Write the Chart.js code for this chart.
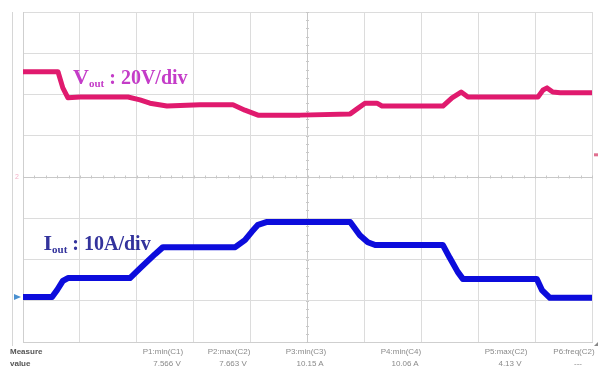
<!DOCTYPE html>
<html>
<head>
<meta charset="utf-8">
<script src="https://cdn.jsdelivr.net/npm/chart.js@4.4.1/dist/chart.umd.min.js"></script>
<style>
  html,body{margin:0;padding:0;background:#fff;}
  #wrap{position:relative;width:600px;height:371px;overflow:hidden;}
  #c{position:absolute;left:0;top:0;}
  .m{position:absolute;font-family:"Liberation Sans",Arial,sans-serif;font-size:8px;color:#8a8a8a;white-space:nowrap;transform:translateX(-50%);}
  .mb{font-weight:bold;color:#555;transform:none;}
</style>
</head>
<body>
<div id="wrap">
<canvas id="c" width="600" height="371"></canvas>
</div>
<script>
// Time axis in divisions (0..10), amplitude in divisions (0..8)
const vTime = [0, 0.615, 0.70, 0.79, 1.0, 1.845, 2.056, 2.23, 2.53, 3.11, 3.69, 3.90, 4.13, 4.87, 5.75, 5.89, 6.01, 6.22, 6.31, 7.38, 7.54, 7.70, 7.82, 9.05, 9.14, 9.21, 9.31, 9.44, 10.0];
const vOut  = [6.55, 6.55, 6.16, 5.92, 5.94, 5.94, 5.87, 5.79, 5.72, 5.75, 5.75, 5.62, 5.50, 5.50, 5.53, 5.67, 5.79, 5.79, 5.72, 5.72, 5.92, 6.06, 5.94, 5.94, 6.11, 6.16, 6.06, 6.04, 6.04];
const iTime = [0, 0.51, 0.60, 0.70, 0.79, 1.88, 2.06, 2.32, 2.46, 3.73, 3.90, 4.02, 4.13, 4.29, 5.75, 5.92, 6.06, 6.19, 7.38, 7.50, 7.64, 7.73, 9.03, 9.12, 9.26, 10.0];
const iOut  = [1.09, 1.09, 1.26, 1.48, 1.55, 1.55, 1.79, 2.13, 2.30, 2.30, 2.47, 2.67, 2.84, 2.91, 2.91, 2.59, 2.42, 2.35, 2.35, 2.04, 1.70, 1.53, 1.53, 1.26, 1.07, 1.07];
const measureLabels = ["P1:min(C1)", "P2:max(C2)", "P3:min(C3)", "P4:min(C4)", "P5:max(C2)", "P6:freq(C2)"];
const measureValues = ["7.566 V", "7.663 V", "10.15 A", "10.06 A", "4.13 V", "---"];

const toPts = (xs, ys) => xs.map((x, i) => ({x: x, y: ys[i]}));

const decor = {
  id: 'decor',
  beforeDatasetsDraw(chart) {
    const {ctx, chartArea: a, scales: {x, y}} = chart;
    ctx.save();
    ctx.strokeStyle = '#d6d6d6'; ctx.lineWidth = 1;
    ctx.beginPath(); ctx.moveTo(12.5, a.top); ctx.lineTo(12.5, a.bottom + 4); ctx.stroke();
    ctx.strokeStyle = '#c8c8c8';
    const cy = y.getPixelForValue(4), cx = x.getPixelForValue(5);
    for (let v = 0; v <= 10.001; v += 0.2) {
      const px = Math.round(x.getPixelForValue(v)) + 0.5;
      ctx.beginPath(); ctx.moveTo(px, cy - 1.5); ctx.lineTo(px, cy + 1.5); ctx.stroke();
    }
    for (let v = 0; v <= 8.001; v += 0.2) {
      const py = Math.round(y.getPixelForValue(v)) + 0.5;
      ctx.beginPath(); ctx.moveTo(cx - 1.5, py); ctx.lineTo(cx + 1.5, py); ctx.stroke();
    }
    ctx.restore();
  },
  afterDatasetsDraw(chart) {
    const {ctx, scales: {x, y}} = chart;
    ctx.save();
    ctx.textBaseline = 'alphabetic';
    function label(main, sub, rest, xv, yv, color) {
      let px = x.getPixelForValue(xv), py = y.getPixelForValue(yv);
      ctx.fillStyle = color;
      ctx.font = 'bold 22px "Liberation Serif", "DejaVu Serif", serif';
      ctx.fillText(main, px, py); px += ctx.measureText(main).width;
      ctx.font = 'bold 11px "Liberation Serif", "DejaVu Serif", serif';
      ctx.fillText(sub, px, py + 3); px += ctx.measureText(sub).width;
      ctx.font = 'bold 20px "Liberation Serif", "DejaVu Serif", serif';
      ctx.fillText(rest, px, py);
    }
    label('V', 'out', ' : 20V/div', 0.88, 6.25, '#c43cc8');
    label('I', 'out', ' : 10A/div', 0.36, 2.24, '#33339c');
    ctx.fillStyle = '#f3b0c8';
    ctx.font = '7px "Liberation Sans", sans-serif';
    ctx.fillText('2', 15, y.getPixelForValue(4) + 2);
    ctx.fillStyle = '#4a90d0';
    ctx.beginPath();
    const my = y.getPixelForValue(1.09);
    ctx.moveTo(14, my - 3); ctx.lineTo(21, my); ctx.lineTo(14, my + 3); ctx.closePath(); ctx.fill();
    ctx.fillStyle = '#e07090';
    ctx.fillRect(594, y.getPixelForValue(4.55) - 1, 4, 3);
    ctx.fillStyle = '#888';
    ctx.beginPath();
    ctx.moveTo(598, 342); ctx.lineTo(594, 346); ctx.lineTo(598, 346); ctx.closePath(); ctx.fill();
    ctx.restore();
  }
};

new Chart(document.getElementById('c'), {
  type: 'line',
  data: {
    datasets: [
      {label: 'Vout', data: toPts(vTime, vOut), borderColor: '#e01a6e', borderWidth: 5, pointRadius: 0, tension: 0, borderJoinStyle: 'round', borderCapStyle: 'round'},
      {label: 'Iout', data: toPts(iTime, iOut), borderColor: '#0c0cdc', borderWidth: 6, pointRadius: 0, tension: 0, borderJoinStyle: 'round', borderCapStyle: 'round'}
    ]
  },
  options: {
    responsive: false,
    devicePixelRatio: 1,
    animation: false,
    layout: {padding: {left: 23, right: 8, top: 12, bottom: 29}},
    plugins: {legend: {display: false}, tooltip: {enabled: false}},
    scales: {
      x: {
        type: 'linear', min: 0, max: 10,
        ticks: {display: false, stepSize: 1},
        grid: {drawTicks: false, color: (c) => c.tick && c.tick.value === 5 ? '#c8c8c8' : '#dcdcdc', lineWidth: 1},
        border: {display: true, color: '#cfcfcf'}
      },
      y: {
        type: 'linear', min: 0, max: 8,
        ticks: {display: false, stepSize: 1},
        grid: {drawTicks: false, color: (c) => c.tick && c.tick.value === 4 ? '#c8c8c8' : '#dcdcdc', lineWidth: 1},
        border: {display: true, color: '#cfcfcf'}
      }
    }
  },
  plugins: [decor]
});

const wrap = document.getElementById('wrap');
const colX = [163, 229, 306, 401, 506, 574];
function addText(t, l, tp, cls) {
  const d = document.createElement('div');
  d.className = 'm' + (cls ? ' ' + cls : '');
  d.textContent = t; d.style.left = l + 'px'; d.style.top = tp + 'px';
  wrap.appendChild(d);
}
addText('Measure', 10, 347, 'mb');
addText('value', 10, 359, 'mb');
measureLabels.forEach((t, i) => addText(t, colX[i], 347));
measureValues.forEach((t, i) => addText(t, colX[i] + 4, 359));
</script>
</body>
</html>
